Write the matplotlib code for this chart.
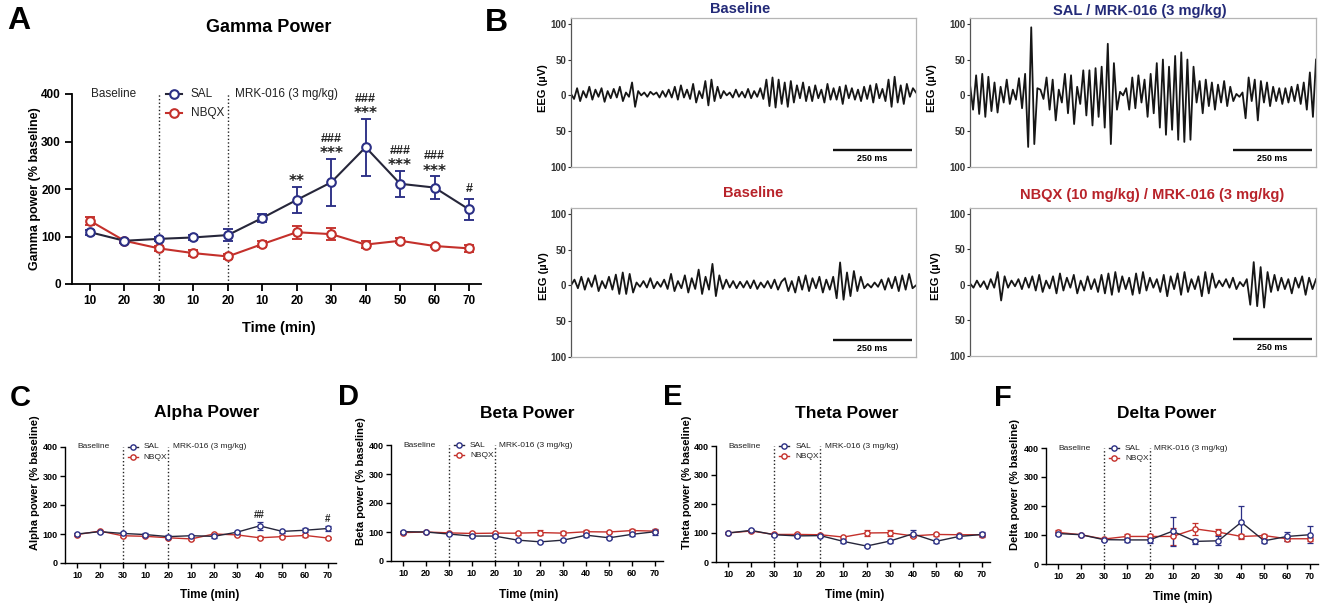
import numpy as np
import matplotlib
matplotlib.use('Agg')
import matplotlib.pyplot as plt
from matplotlib import font_manager as fm

# ---------------- data ----------------
time_labels = ['10', '20', '30', '10', '20', '10', '20', '30', '40', '50', '60', '70']

gamma_sal = [109, 91, 95, 98, 103, 139, 177, 214, 288, 211, 203, 157]
gamma_sal_err = [5, 4, 5, 5, 12, 8, 28, 50, 60, 27, 24, 23]
gamma_nbqx = [133, 91, 75, 65, 58, 84, 109, 105, 83, 91, 80, 75]
gamma_nbqx_err = [8, 4, 5, 6, 6, 7, 14, 12, 8, 5, 3, 7]
gamma_stars = ['', '', '', '', '', '', '**', '***', '***', '***', '***', '']
gamma_hashes = ['', '', '', '', '', '', '', '###', '###', '###', '###', '#']

alpha_sal = [100, 108, 102, 98, 91, 94, 92, 106, 128, 109, 113, 119]
alpha_sal_err = [4, 3, 4, 4, 4, 4, 5, 5, 15, 5, 6, 10]
alpha_nbqx = [98, 110, 94, 92, 87, 83, 100, 97, 87, 91, 95, 86]
alpha_nbqx_err = [4, 3, 4, 4, 4, 4, 4, 4, 5, 4, 4, 4]
alpha_hashes = ['', '', '', '', '', '', '', '', '##', '', '', '#']

beta_sal = [101, 100, 93, 86, 86, 72, 66, 72, 89, 80, 92, 101]
beta_sal_err = [4, 3, 4, 4, 4, 4, 4, 4, 5, 5, 5, 10]
beta_nbqx = [98, 100, 97, 95, 96, 96, 98, 96, 101, 100, 105, 103]
beta_nbqx_err = [4, 3, 4, 4, 4, 5, 10, 6, 5, 4, 5, 5]

theta_sal = [100, 109, 94, 90, 91, 71, 55, 72, 97, 71, 88, 95]
theta_sal_err = [4, 5, 4, 4, 4, 5, 4, 5, 12, 5, 5, 10]
theta_nbqx = [100, 107, 95, 95, 94, 86, 100, 101, 90, 95, 94, 94]
theta_nbqx_err = [4, 4, 4, 5, 4, 5, 12, 10, 5, 4, 4, 5]

delta_sal = [105, 101, 84, 83, 83, 113, 78, 80, 144, 80, 95, 101]
delta_sal_err = [6, 4, 4, 8, 10, 50, 8, 15, 55, 6, 15, 30]
delta_nbqx = [109, 101, 86, 95, 95, 95, 121, 110, 95, 98, 87, 87]
delta_nbqx_err = [8, 4, 4, 8, 8, 30, 20, 10, 8, 6, 6, 6]

# EEG traces: successive peaks / troughs (µV)
eeg_sal_baseline = [2, -5, 10, -8, 6, -3, 12, -6, 8, -2, 10, -9, 6, -4, 9, -3, 12, -8, 4, -2,
                    18, -16,
                    6, 0, 4, -2, 5, 1, 4, -3, 6, -2, 8, -3,
                    12, -6, 14, -3, 8, -5, 16, -10, 6, -4, 20, -14, 22, -8, 12, -4,
                    6, 0, 4, -3, 8, -2, 5, -3, 9, -4, 6, -2, 10, -5,
                    22, -15, 25, -17, 22, -12, 18, -16, 20, -10, 14, -4, 18, -8,
                    12, -8, 14, -4, 8, -10, 16, -6, 10, -6, 12, -12, 14, -4, 10, -6, 8, -8,
                    12, -5, 14, -10, 16, -4, 9, -8, 22, -16, 26, -10, 14, -12, 16, -2, 10, 4]
eeg_sal_mrk = [15, -20, 28, -26, 30, -30, 26, -22, 18, -24, 12, -10, 22, -12, 8, -6, 24, -18, 30,
               -72, 95, -68, 10, 8,
               -5, 25, -20, 22, -35, 8, -10, 30, -25, 28, -40, 12, -12, 35,
               -28, 35, -42, 38, -30, 40, -45, 72, -68, 45, -20,
               5, 0, 10, -20, 25, -18, 28, -10, 22, -30, 30, -25,
               45, -45, 50, -55, 40, -48, 55, -62, 60, -65, 50, -62, 40, -10,
               20, -25, 22, -15, 18, -20, 15, -10, 20, -15, 12, -8, 2, -2, 4,
               -32, 25, -8, 22, -35, 20, -10, 18, -15, 12, -8, 10, -12, 10, -10, 12, -8, 15,
               -12, 18, -20, 32, -30, 50]
eeg_nbqx_baseline = [0, 8, -4, 12, -6, 10, -2, 14, -8, 6, -4, 12, -6,
                     15, -12, 18, -12, 16, -10,
                     4, -2, 6, -3, 10, -4, 5, -2, 8, -5,
                     16, -8, 6, -4, 14, -10, 10, -5, 22, -12,
                     12, -6, 30, -15, 14,
                     -5, 8, -3, 6, -4, 5, -3, 6, -4, 7, -5, 4, -3, 6, -4, 8, -6, 5,
                     10, -8, 6, -10, 12, -6, 14, -8, 10, -4, 12, -10, 8, -6, 12,
                     -18, 32, -20, 18, -15, 20, -8, 12,
                     -4, 2, -3, 4, -2, 8, -6, 10, -4, 12, -8, 14, -6, 16, -4, 0]
eeg_nbqx_mrk = [2, -4, 6, -3, 5, -6, 8, -4,
                18, -22, 12,
                -4, 6, -2, 8, -6, 10, -4, 12, -8, 14, -10, 6,
                -5, 12, -12, 16, -8, 10, -4, 14, -12, 6, -8, 12, -6, 8,
                -10, 14, -12, 16, -14, 18, -10, 12, -6, 10, -14, 16, -12, 18, -8, 10, -4,
                8, -10, 14, -16, 12, -6, 16, -14, 18, -10, 8, -6, 12, -16, 18, -12, 16, -4,
                6, -2, 8, -4, 10, -6, 4, -2, 8,
                -28, 32, -30, 25, -32, 18, -10, 14,
                -8, 10, -6, 8, -12, 10, -4, 12, -14, 10, -6, 8]
eeg_duration_ms = 1100
scale_bar_ms = 250

# ---------------- style ----------------
names = {f.name for f in fm.fontManager.ttflist}
BASE = 'Liberation Sans' if 'Liberation Sans' in names else 'DejaVu Sans'
NARROW = 'Liberation Sans Narrow' if 'Liberation Sans Narrow' in names else BASE
plt.rcParams['font.family'] = [BASE, 'DejaVu Sans']

SAL_C = '#2b2f85'
SAL_LINE = '#26263a'
NBQX_C = '#c4302b'
NAVY_T = '#232a78'
RED_T = '#b8232a'

W, H = 1327, 606
fig = plt.figure(figsize=(W / 100, H / 100), dpi=100)


def ptxt(x, y, s, **kw):
    fig.text(x / W, 1 - y / H, s, **kw)


def add_ax(x10, x70, top, bottom, xl=-0.52, xr=11.35):
    s = (x70 - x10) / 11
    left = x10 + xl * s
    right = x10 + xr * s
    ax = fig.add_axes([left / W, 1 - bottom / H, (right - left) / W, (bottom - top) / H])
    ax.set_xlim(xl, xr)
    return ax


def power_panel(ax, sal, sal_err, nb, nb_err, big, stars=None, hashes=None):
    x = np.arange(len(time_labels))
    ms = 6.2 if big else 3.8
    lw = 1.5 if big else 1.0
    cs = 3.5 if big else 2.0
    for vals, err, col, lcol in [(nb, nb_err, NBQX_C, NBQX_C), (sal, sal_err, SAL_C, SAL_LINE)]:
        ax.errorbar(x, vals, yerr=err, fmt='none', ecolor=col, elinewidth=lw * 0.9,
                    capsize=cs, capthick=lw * 0.9, zorder=2)
        ax.plot(x, vals, '-', color=lcol, lw=lw, zorder=3)
        ax.plot(x, vals, 'o', mfc='white', mec=col, mew=lw, ms=ms, zorder=4)
    ax.set_ylim(0, 400)
    ax.set_xticks(x)
    ax.set_xticklabels(time_labels)
    ax.set_yticks([0, 100, 200, 300, 400])
    for s in ['top', 'right']:
        ax.spines[s].set_visible(False)
    slw = 1.3 if big else 1.0
    for s in ['left', 'bottom']:
        ax.spines[s].set_linewidth(slw)
    fs = 8.5 if big else 6.5
    fam = BASE if big else NARROW
    ax.tick_params(direction='out', length=5 if big else 3.5, width=slw, labelsize=fs,
                   pad=3 if big else 2)
    for lab in ax.get_xticklabels() + ax.get_yticklabels():
        lab.set_fontweight('bold')
        lab.set_family(fam)
    for xv in (2, 4):
        ax.axvline(xv, color='#222222', ls=(0, (1, 1.6)), lw=1.0, zorder=1)
    # texts / legend
    tfs = 8.5 if big else 6
    ax.text(0.03, 400, 'Baseline', fontsize=tfs, va='center', ha='left', family=fam, color='#222')
    ax.text(4.2, 400, 'MRK-016 (3 mg/kg)', fontsize=tfs, va='center', ha='left', family=fam, color='#222')
    row2 = 360 if big else 364
    for yy, lab, col, lcol in [(400, 'SAL', SAL_C, SAL_LINE), (row2, 'NBQX', NBQX_C, NBQX_C)]:
        ax.plot([2.22, 2.66], [yy, yy], color=lcol, lw=lw, clip_on=False, zorder=3)
        ax.plot([2.44], [yy], 'o', mfc='white', mec=col, mew=lw, ms=ms, clip_on=False, zorder=4)
        ax.text(2.92, yy, lab, fontsize=tfs, va='center', ha='left', family=fam, color='#222')
    # significance marks
    afs = 9 if big else 7
    if stars is not None:
        for i, st in enumerate(stars):
            top = sal[i] + sal_err[i]
            if st:
                ax.text(i, top + 1, st, ha='center', va='baseline', fontsize=11,
                        fontweight='bold', family='DejaVu Sans', color='#222')
    if hashes is not None:
        for i, hs in enumerate(hashes):
            top = sal[i] + sal_err[i]
            if hs:
                off = (42 if stars is not None and stars[i] else 20) if big else 24
                ax.text(i, top + off, hs, ha='center', va='center', fontsize=afs,
                        fontweight='bold', color='#222', family=fam)
    return ax


# ---------------- panel A ----------------
axA = add_ax(90, 469, 94, 284)
power_panel(axA, gamma_sal, gamma_sal_err, gamma_nbqx, gamma_nbqx_err, True,
            stars=gamma_stars, hashes=gamma_hashes)
ptxt(19, 21, 'A', fontsize=23, fontweight='bold', ha='center', va='center')
ptxt(269, 28, 'Gamma Power', fontsize=13, fontweight='bold', ha='center', va='center')
ptxt(279, 328, 'Time (min)', fontsize=10.5, fontweight='bold', ha='center', va='center')
ptxt(35, 189, 'Gamma power (% baseline)', fontsize=9, fontweight='bold', ha='center', va='center',
     rotation=90)

# ---------------- panels C-F ----------------
small = [
    ('C', 'Alpha Power', 'Alpha power (% baseline)', alpha_sal, alpha_sal_err, alpha_nbqx, alpha_nbqx_err,
     alpha_hashes, (77, 328, 447, 563), (20, 398), (207, 412), (210, 595), (35, 483)),
    ('D', 'Beta Power', 'Beta power (% baseline)', beta_sal, beta_sal_err, beta_nbqx, beta_nbqx_err,
     None, (403, 655, 445, 561), (348, 397), (527, 413), (529, 595), (361, 481)),
    ('E', 'Theta Power', 'Theta power (% baseline)', theta_sal, theta_sal_err, theta_nbqx, theta_nbqx_err,
     None, (728, 982, 446, 562), (673, 397), (847, 413), (855, 595), (687, 482)),
    ('F', 'Delta Power', 'Delta power (% baseline)', delta_sal, delta_sal_err, delta_nbqx, delta_nbqx_err,
     None, (1058, 1310, 448, 564), (1003, 398), (1167, 413), (1183, 597), (1015, 484)),
]
for letter, title, ylab, s, se, n, ne, hs, geo, lp, tp, xp, yp in small:
    ax = add_ax(*geo)
    power_panel(ax, s, se, n, ne, False, stars=None, hashes=hs)
    ptxt(lp[0], lp[1], letter, fontsize=21, fontweight='bold', ha='center', va='center')
    ptxt(tp[0], tp[1], title, fontsize=12.5, fontweight='bold', ha='center', va='center')
    ptxt(xp[0], xp[1], 'Time (min)', fontsize=8.5, fontweight='bold', ha='center', va='center')
    ptxt(yp[0], yp[1], ylab, fontsize=8, fontweight='bold', ha='center', va='center', rotation=90,
         family=NARROW)

# ---------------- panel B ----------------
ptxt(496, 23, 'B', fontsize=23, fontweight='bold', ha='center', va='center')
eeg = [
    (eeg_sal_baseline, 'Baseline', NAVY_T, (571, 18, 916, 167), (740, 9), (543, 88)),
    (eeg_sal_mrk, 'SAL / MRK-016 (3 mg/kg)', NAVY_T, (970, 18, 1316, 167), (1140, 11), (932, 88)),
    (eeg_nbqx_baseline, 'Baseline', RED_T, (571, 208, 916, 357), (753, 193), (544, 276)),
    (eeg_nbqx_mrk, 'NBQX (10 mg/kg) / MRK-016 (3 mg/kg)', RED_T, (970, 208, 1316, 356), (1152, 195),
     (936, 276)),
]
for vals, title, tcol, box, tp, yp in eeg:
    l, t, r, b = box
    ax = fig.add_axes([l / W, 1 - b / H, (r - l) / W, (b - t) / H])
    tt = np.linspace(0, eeg_duration_ms, len(vals))
    ax.plot(tt, vals, color='#161616', lw=1.3, solid_joinstyle='round')
    ax.set_xlim(0, eeg_duration_ms)
    ax.set_ylim(-100, 108)
    ax.set_xticks([])
    ax.set_yticks([-100, -50, 0, 50, 100])
    ax.set_yticklabels(['100', '50', '0', '50', '100'], fontweight='bold', fontsize=7)
    ax.tick_params(axis='y', length=2, pad=1.5, width=0.8, colors='#333333')
    for sname in ['top', 'right', 'bottom']:
        ax.spines[sname].set_color('#b5b5b5')
        ax.spines[sname].set_linewidth(0.9)
    ax.spines['left'].set_color('#555555')
    ax.spines['left'].set_linewidth(0.9)
    x1 = eeg_duration_ms - 14
    x0 = x1 - scale_bar_ms
    ax.plot([x0, x1], [-76, -76], color='#111111', lw=1.7, solid_capstyle='butt')
    ax.text((x0 + x1) / 2, -88, '250 ms', ha='center', va='center', fontsize=6.5, fontweight='bold')
    ptxt(tp[0], tp[1], title, fontsize=10.5, fontweight='bold', ha='center', va='center', color=tcol)
    ptxt(yp[0], yp[1], 'EEG (µV)', fontsize=8, fontweight='bold', ha='center', va='center', rotation=90)

fig.savefig('out.png', dpi=100)
